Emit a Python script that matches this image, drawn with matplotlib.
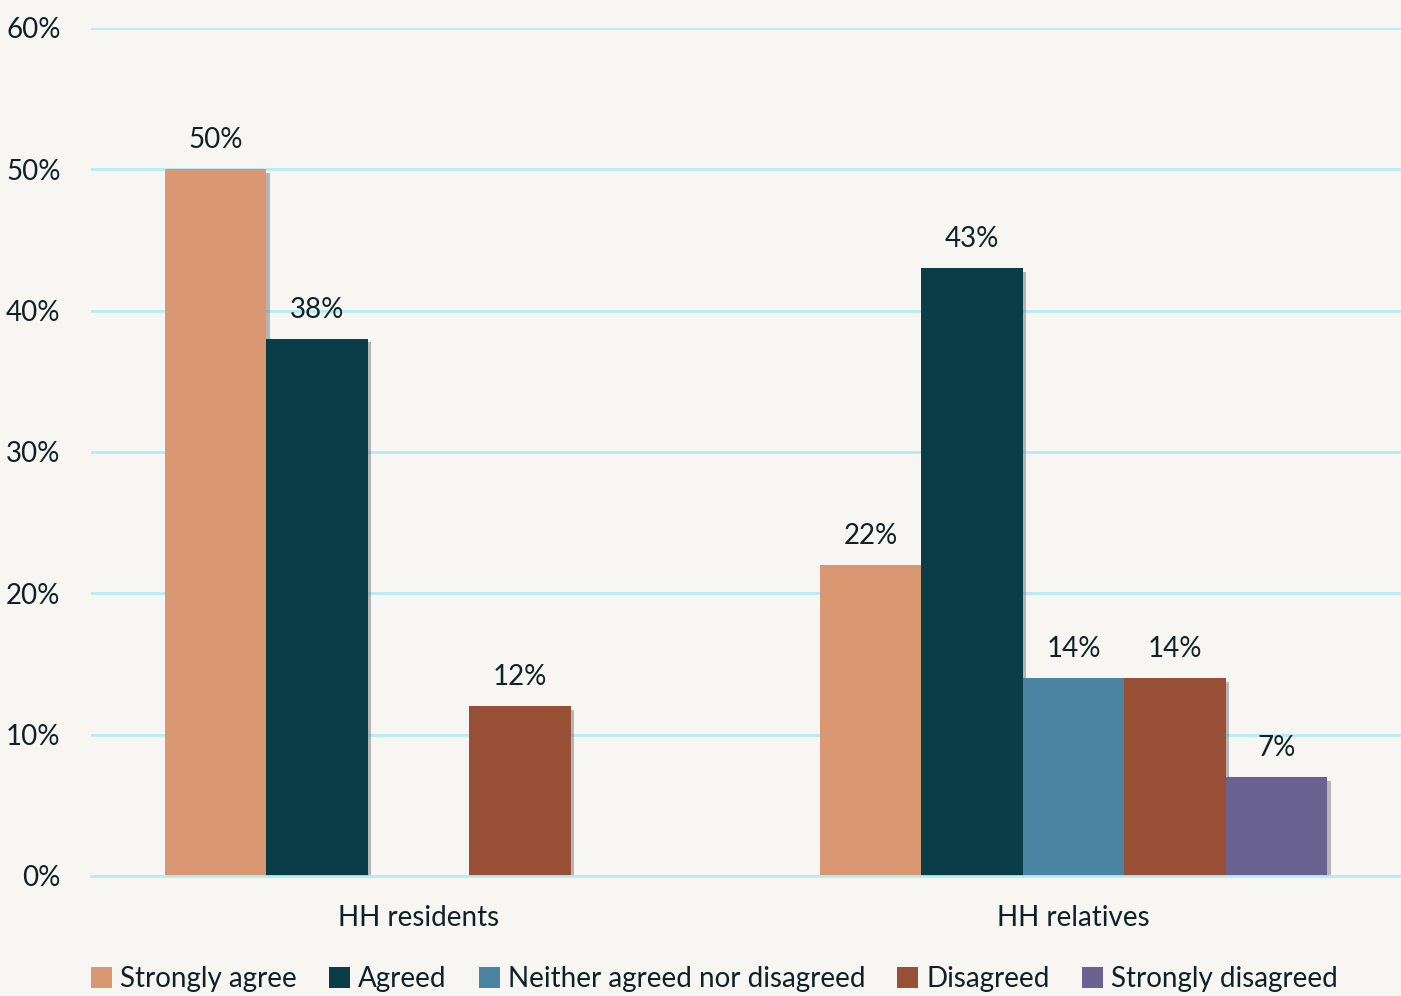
import numpy as np
import matplotlib
matplotlib.use("Agg")
import matplotlib.pyplot as plt
from matplotlib import patheffects as pe

plt.rcParams['font.family'] = ['Lato', 'DejaVu Sans']

groups = ["HH residents", "HH relatives"]
series = ["Strongly agree", "Agreed", "Neither agreed nor disagreed",
          "Disagreed", "Strongly disagreed"]
strongly_agree = [50, 22]
agreed = [38, 43]
neither = [np.nan, 14]
disagreed = [12, 14]
strongly_disagreed = [np.nan, 7]
values = [strongly_agree, agreed, neither, disagreed, strongly_disagreed]
colors = ["#d99872", "#0a3d48", "#4b83a3", "#974f35", "#6a6391"]
yticks = [0, 10, 20, 30, 40, 50, 60]

bg = "#f8f6f2"
text_c = "#0d2226"
grid_c = "#b5ecf6"

fig = plt.figure(figsize=(14.01, 9.96), dpi=100, facecolor=bg)
ax = fig.add_axes([0.065, 0.1205, 0.935, 0.8514], facecolor=bg)

x = np.arange(len(groups))
width = 0.155
shadow = [pe.SimplePatchShadow(offset=(2.5, -2.5), shadow_rgbFace="#666666", alpha=0.45),
          pe.Normal()]

for i, (name, vals, col) in enumerate(zip(series, values, colors)):
    pos = x + (i - 2) * width
    bars = ax.bar(pos, vals, width=width, color=col, label=name, zorder=3,
                  path_effects=shadow, linewidth=0)
    for b, v in zip(bars, vals):
        if np.isnan(v):
            continue
        ax.annotate(f"{v:.0f}%", (b.get_x() + b.get_width() / 2, v),
                    xytext=(0, 21), textcoords="offset points",
                    ha="center", va="center", fontsize=20, color=text_c, zorder=5)

ax.set_xlim(-0.5, 1.5)
ax.set_ylim(0, 60)
ax.set_yticks(yticks)
ax.set_yticklabels([f"{t}%" for t in yticks])
ax.set_xticks(x)
ax.set_xticklabels(groups)
ax.tick_params(axis="both", length=0, labelsize=20, colors=text_c)
ax.tick_params(axis="y", pad=22)
ax.tick_params(axis="x", pad=21)
ax.grid(axis="y", color=grid_c, linewidth=2, zorder=0)
ax.axhline(0, color=grid_c, linewidth=2, zorder=4, clip_on=False)
for s in ax.spines.values():
    s.set_visible(False)

handles, labels = ax.get_legend_handles_labels()
leg = fig.legend(handles, labels, loc="center", bbox_to_anchor=(0.51, 0.017),
                 ncol=5, frameon=False, fontsize=20, handlelength=0.75,
                 handleheight=0.75, handletextpad=0.3, columnspacing=1.15,
                 labelcolor=text_c)
for h in leg.legend_handles:
    h.set_path_effects([])

fig.savefig("out.png", dpi=100, facecolor=bg)
